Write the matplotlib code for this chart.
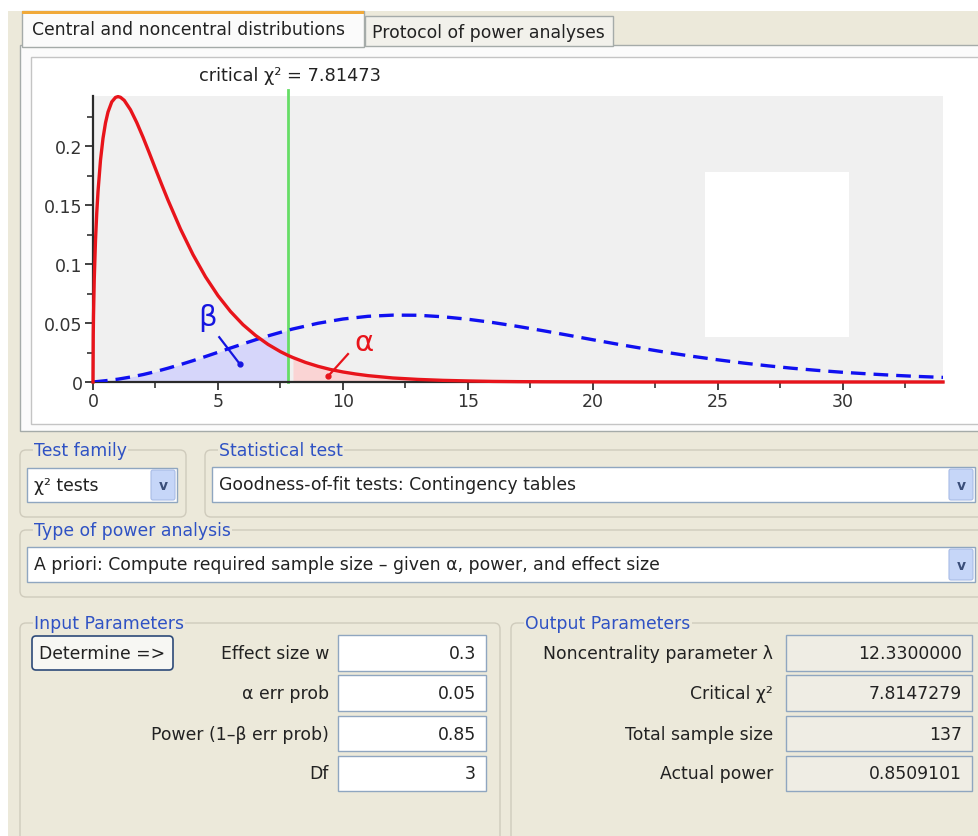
import numpy as np
import matplotlib
matplotlib.use('Agg')
import matplotlib.pyplot as plt
from matplotlib.patches import Rectangle, FancyBboxPatch

plt.rcParams['font.family'] = ['DejaVu Sans']

# central chi2 (df = 3)
x_central = [0, 0.01, 0.02, 0.05, 0.1, 0.15, 0.2, 0.3, 0.4, 0.5, 0.6, 0.75, 0.9, 1, 1.1,
             1.25, 1.5, 1.75, 2, 2.25, 2.5, 2.75, 3, 3.5, 4, 4.5, 5, 5.5, 6, 6.5, 7, 7.5,
             7.8147, 8, 8.5, 9, 9.5, 10, 10.5, 11, 12, 13, 14, 15, 16, 17, 18, 20, 22, 25,
             30, 34]
central_pdf = [0, 0.0397, 0.0559, 0.0870, 0.1200, 0.1433, 0.1614, 0.1881, 0.2066, 0.2197,
               0.2289, 0.2375, 0.2413, 0.2420, 0.2414, 0.2388, 0.2308, 0.2200, 0.2076,
               0.1943, 0.1807, 0.1673, 0.1542, 0.1297, 0.1080, 0.0892, 0.0732, 0.0598,
               0.0486, 0.0395, 0.0319, 0.0257, 0.0224, 0.0207, 0.0166, 0.0133, 0.0106,
               0.0085, 0.0068, 0.0054, 0.0034, 0.0022, 0.0014, 0.0009, 0.0005, 0.0003,
               0.0002, 0.0001, 0.0, 0.0, 0.0, 0.0]

# noncentral chi2 (df = 3, lambda = 12.33)
x_noncentral = [0, 0.5, 1, 1.5, 2, 2.5, 3, 3.5, 4, 4.5, 5, 5.5, 6, 6.5, 7, 7.5, 7.8147, 8,
                9, 10, 11, 12, 13, 14, 15, 16, 17, 18, 19, 20, 21, 22, 23, 24, 25, 26, 27,
                28, 29, 30, 31, 32, 33, 34]
noncentral_pdf = [0, 0.0011, 0.0024, 0.0042, 0.0063, 0.0088, 0.0117, 0.0148, 0.0181,
                  0.0216, 0.0252, 0.0288, 0.0323, 0.0358, 0.0391, 0.0421, 0.0440, 0.0450,
                  0.0498, 0.0534, 0.0557, 0.0567, 0.0566, 0.0553, 0.0532, 0.0504, 0.0471,
                  0.0435, 0.0397, 0.0358, 0.0320, 0.0284, 0.0249, 0.0217, 0.0188, 0.0161,
                  0.0137, 0.0116, 0.0098, 0.0082, 0.0069, 0.0057, 0.0047, 0.0039]

critical = 7.81473
xticks = [0, 5, 10, 15, 20, 25, 30]
yticks = [0, 0.05, 0.1, 0.15, 0.2]
ytick_labels = ['0', '0.05', '0.1', '0.15', '0.2']

input_labels = ['Effect size w', 'α err prob', 'Power (1–β err prob)', 'Df']
input_values = ['0.3', '0.05', '0.85', '3']
output_labels = ['Noncentrality parameter λ', 'Critical χ²', 'Total sample size', 'Actual power']
output_values = ['12.3300000', '7.8147279', '137', '0.8509101']

BEIGE = '#ECE9DA'
TITLE_BLUE = '#2F52C4'
FIELD_EDGE = '#8FA6C0'
TXT = '#222222'
FS = 12.4

fig = plt.figure(figsize=(9.79, 8.37), dpi=100, facecolor='white')
bg = fig.add_axes([0, 0, 1, 1])
bg.set_xlim(0, 979)
bg.set_ylim(837, 0)
bg.axis('off')


def rect(x0, y0, x1, y1, fc, ec='none', lw=1.0, z=1, rad=0):
    if rad:
        p = FancyBboxPatch((x0, y0), x1 - x0, y1 - y0,
                           boxstyle='round,pad=0,rounding_size=%g' % rad,
                           fc=fc, ec=ec, lw=lw, zorder=z)
    else:
        p = Rectangle((x0, y0), x1 - x0, y1 - y0, fc=fc, ec=ec, lw=lw, zorder=z)
    bg.add_patch(p)


def group(x0, y0, x1, y1, title):
    rect(x0, y0, x1, y1, 'none', '#CFCBBC', 1.0, z=2, rad=6)
    bg.text(x0 + 14, y0, title, color=TITLE_BLUE, fontsize=FS, va='center', ha='left',
            zorder=3, bbox=dict(fc=BEIGE, ec='none', pad=1))


def combo(x0, y0, x1, y1, label):
    rect(x0, y0, x1, y1, 'white', FIELD_EDGE, 1.0, z=3)
    bg.text(x0 + 7, (y0 + y1) / 2, label, color=TXT, fontsize=FS, va='center', zorder=4)
    rect(x1 - 26, y0 + 2, x1 - 2, y1 - 2, '#C6D6F8', '#A8BCE6', 0.8, z=4, rad=2)
    bg.text(x1 - 14, (y0 + y1) / 2, 'v', color='#3A4E7A', fontsize=10, ha='center',
            va='center', zorder=5, fontweight='bold')


# window background
rect(8, 10, 979, 837, BEIGE, z=0)
rect(0, 0, 979, 12, 'white', z=0)

# tab pane
rect(20, 46, 985, 432, '#FBFBFB', '#A5ABA9', 1.0, z=1)
rect(31, 58, 985, 425, 'white', '#C4C4C4', 1.0, z=1)
rect(365, 17, 613, 47, '#F2F1EB', '#A5ABA9', 1.0, z=1)
bg.text(372, 33, 'Protocol of power analyses', fontsize=FS, color=TXT, va='center', zorder=2)
rect(22, 12, 364, 48, '#FBFBFB', '#A5ABA9', 1.0, z=2)
rect(22, 12, 364, 15, '#F0A93A', z=3)
bg.text(32, 30, 'Central and noncentral distributions', fontsize=FS, color=TXT,
        va='center', zorder=3)
bg.text(290, 76, 'critical χ² = 7.81473', fontsize=12.8, color=TXT, ha='center',
        va='center', zorder=3)

# test selection
group(20, 451, 186, 518, 'Test family')
combo(27, 469, 177, 503, 'χ² tests')
group(205, 451, 990, 518, 'Statistical test')
combo(212, 468, 975, 503, 'Goodness-of-fit tests: Contingency tables')
group(20, 531, 990, 598, 'Type of power analysis')
combo(27, 548, 975, 583, 'A priori: Compute required sample size – given α, power, and effect size')

# parameter panels
group(20, 624, 500, 850, 'Input Parameters')
group(511, 624, 990, 850, 'Output Parameters')
rect(32, 637, 173, 671, '#F7F7F3', '#2D4A78', 1.2, z=3, rad=4)
bg.text(102, 654, 'Determine =>', fontsize=FS, color=TXT, ha='center', va='center', zorder=4)

rows_y = [(636, 672), (676, 712), (717, 752), (757, 792)]
for (y0, y1), lab, val in zip(rows_y, input_labels, input_values):
    rect(338, y0, 486, y1, 'white', FIELD_EDGE, 1.0, z=3)
    bg.text(329, (y0 + y1) / 2, lab, fontsize=FS, color=TXT, ha='right', va='center', zorder=4)
    bg.text(476, (y0 + y1) / 2, val, fontsize=FS, color=TXT, ha='right', va='center', zorder=4)
for (y0, y1), lab, val in zip(rows_y, output_labels, output_values):
    rect(786, y0, 972, y1, '#EFEDE4', FIELD_EDGE, 1.0, z=3)
    bg.text(773, (y0 + y1) / 2, lab, fontsize=FS, color=TXT, ha='right', va='center', zorder=4)
    bg.text(962, (y0 + y1) / 2, val, fontsize=FS, color=TXT, ha='right', va='center', zorder=4)

# distribution plot
ax = fig.add_axes([93 / 979, (837 - 383) / 837, 850 / 979, 286 / 837])
ax.set_facecolor('#F0F0F0')
xc = np.array(x_central)
yc = np.array(central_pdf)
xn = np.array(x_noncentral)
yn = np.array(noncentral_pdf)

ax.fill_between(xn, yn, where=xn <= critical, color='#D6D6FA', lw=0, zorder=1)
ax.fill_between(xc, yc, where=xc >= critical, color='#FAD4D4', lw=0, zorder=1)
ax.plot(xn, yn, color='#1010F0', lw=2.4, ls=(0, (4.4, 2.4)), zorder=3)
ax.plot(xc, yc, color='#E8141B', lw=2.4, zorder=4, clip_on=False)
ax.axvline(critical, ymin=0, ymax=1.022, color='#66DD66', lw=2, clip_on=False, zorder=2)

# white box inside the plot area
ax.add_patch(Rectangle((0.72, 0.157), 0.1694, 0.577, transform=ax.transAxes,
                       fc='white', ec='none', zorder=2))

# beta / alpha labels
ax.text(4.6, 0.055, 'β', color='#1515E0', fontsize=21, ha='center', va='center')
ax.plot([5.05, 5.87], [0.038, 0.0153], color='#1515E0', lw=1.6)
ax.plot([5.87], [0.0153], 'o', color='#1515E0', ms=3.5)
ax.text(10.85, 0.034, 'α', color='#E8141B', fontsize=21, ha='center', va='center')
ax.plot([10.2, 9.4], [0.0237, 0.0048], color='#E8141B', lw=1.6)
ax.plot([9.4], [0.0048], 'o', color='#E8141B', ms=3.5)

ax.set_xlim(0, 34)
ax.set_ylim(0, 0.2425)
ax.set_xticks(xticks)
ax.set_xticks(np.arange(2.5, 34, 5), minor=True)
ax.set_yticks(yticks)
ax.set_yticklabels(ytick_labels)
ax.set_yticks(np.arange(0.025, 0.24, 0.05), minor=True)
for s in ['top', 'right']:
    ax.spines[s].set_visible(False)
for s in ['left', 'bottom']:
    ax.spines[s].set_color('#2A2A2A')
    ax.spines[s].set_linewidth(1.6)
ax.tick_params(which='major', length=6, width=1.3, color='#333333', labelsize=12.5,
               labelcolor='#333333', pad=1.5)
ax.tick_params(which='minor', length=4, width=1.2, color='#333333')

fig.savefig('out.png', dpi=100, facecolor='white')
